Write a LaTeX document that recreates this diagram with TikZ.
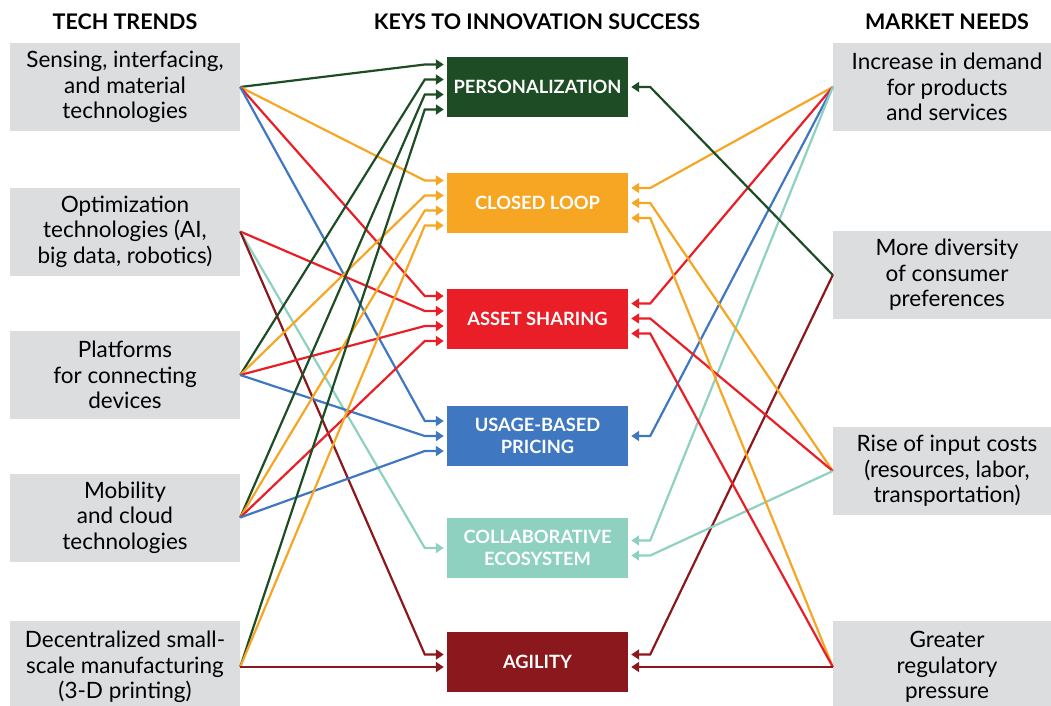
\documentclass[tikz,border=0pt]{standalone}
\usepackage{fontspec}
\setmainfont{Lato}
\usetikzlibrary{arrows.meta,calc}

\definecolor{boxgray}{RGB}{220,221,223}
\definecolor{dkgreen}{RGB}{30,77,37}
\definecolor{keyorange}{RGB}{246,166,35}
\definecolor{keyred}{RGB}{233,30,38}
\definecolor{keyblue}{RGB}{63,120,192}
\definecolor{keyteal}{RGB}{142,209,192}
\definecolor{dkred}{RGB}{139,24,28}

\tikzset{
    trend/.style={fill=boxgray, minimum width=230, minimum height=88, inner sep=0pt,
        align=center, font=\fontsize{22.5}{25.5}\selectfont},
    need/.style={trend, minimum width=228},
    key/.style={minimum width=181, minimum height=60, inner sep=0pt, align=center,
        text=white, font=\fontsize{18.3}{22.5}\selectfont\bfseries},
    head/.style={font=\fontsize{21.5}{22}\selectfont\bfseries},
    link/.style={line width=2.2pt, -{Triangle[length=8pt,width=10pt]}}
}

\begin{document}
\begin{tikzpicture}[x=1pt, y=-1pt]
        \useasboundingbox (0, 0) rectangle (1051, 705);
        %\draw[color=lightgray, step=50] (0, 0) grid (1051, 705);
        \node[head] (hleft) at (125, 22) {TECH TRENDS};
        \node[head] (hmid) at (537, 22) {KEYS TO INNOVATION SUCCESS};
        \node[head] (hright) at (947, 22) {MARKET NEEDS};

        \node[trend] (sens) at (125, 87) {Sensing, interfacing,\\and material\\technologies};
        \node[trend] (optim) at (125, 231.5) {Optimization\\technologies (AI,\\big data, robotics)};
        \node[trend] (platf) at (125, 375) {Platforms\\for connecting\\devices};
        \node[trend] (mobil) at (125, 517.5) {Mobility\\and cloud\\technologies};
        \node[trend, minimum height=92] (decen) at (125, 667) {Decentralized small-\\scale manufacturing\\(3-D printing)};

        \node[key, fill=dkgreen] (pers) at (537.5, 87) {PERSONALIZATION};
        \node[key, fill=keyorange] (loop) at (537.5, 203) {CLOSED LOOP};
        \node[key, fill=keyred] (asset) at (537.5, 318.5) {ASSET SHARING};
        \node[key, fill=keyblue] (usage) at (537.5, 436) {USAGE-BASED\\PRICING};
        \node[key, fill=keyteal] (collab) at (537.5, 548) {COLLABORATIVE\\ECOSYSTEM};
        \node[key, fill=dkred] (agil) at (537.5, 662) {AGILITY};

        \node[need] (demand) at (947, 87) {Increase in demand\\for products\\and services};
        \node[need] (divers) at (947, 275) {More diversity\\of consumer\\preferences};
        \node[need] (costs) at (947, 471) {Rise of input costs\\(resources, labor,\\transportation)};
        \node[need, minimum height=92] (regul) at (947, 667) {Greater\\regulatory\\pressure};

        % tech trends -> keys
        \draw[link, dkgreen] (sens.east) -- ($(pers.west)+(-22,-22.5)$) -- ($(pers.west)+(-3,-22.5)$);
        \draw[link, keyorange] (sens.east) -- ($(loop.west)+(-22,-22.5)$) -- ($(loop.west)+(-3,-22.5)$);
        \draw[link, keyred] (sens.east) -- ($(asset.west)+(-22,-22.5)$) -- ($(asset.west)+(-3,-22.5)$);
        \draw[link, keyblue] (sens.east) -- ($(usage.west)+(-22,-15)$) -- ($(usage.west)+(-3,-15)$);
        \draw[link, keyred] (optim.east) -- ($(asset.west)+(-22,-7.5)$) -- ($(asset.west)+(-3,-7.5)$);
        \draw[link, keyteal] (optim.east) -- ($(collab.west)+(-22,0)$) -- ($(collab.west)+(-3,0)$);
        \draw[link, dkred] (optim.east) -- ($(agil.west)+(-22,-7.5)$) -- ($(agil.west)+(-3,-7.5)$);
        \draw[link, dkgreen] (platf.east) -- ($(pers.west)+(-22,-7.5)$) -- ($(pers.west)+(-3,-7.5)$);
        \draw[link, keyorange] (platf.east) -- ($(loop.west)+(-22,-7.5)$) -- ($(loop.west)+(-3,-7.5)$);
        \draw[link, keyred] (platf.east) -- ($(asset.west)+(-22,7.5)$) -- ($(asset.west)+(-3,7.5)$);
        \draw[link, keyblue] (platf.east) -- ($(usage.west)+(-22,0)$) -- ($(usage.west)+(-3,0)$);
        \draw[link, dkgreen] (mobil.east) -- ($(pers.west)+(-22,7.5)$) -- ($(pers.west)+(-3,7.5)$);
        \draw[link, keyorange] (mobil.east) -- ($(loop.west)+(-22,7.5)$) -- ($(loop.west)+(-3,7.5)$);
        \draw[link, keyred] (mobil.east) -- ($(asset.west)+(-22,22.5)$) -- ($(asset.west)+(-3,22.5)$);
        \draw[link, keyblue] (mobil.east) -- ($(usage.west)+(-22,15)$) -- ($(usage.west)+(-3,15)$);
        \draw[link, dkgreen] (decen.east) -- ($(pers.west)+(-22,22.5)$) -- ($(pers.west)+(-3,22.5)$);
        \draw[link, keyorange] (decen.east) -- ($(loop.west)+(-22,22.5)$) -- ($(loop.west)+(-3,22.5)$);
        \draw[link, dkred] (decen.east) -- ($(agil.west)+(-3,5)$);

        % market needs -> keys
        \draw[link, keyorange] (demand.west) -- ($(loop.east)+(22,-15)$) -- ($(loop.east)+(3,-15)$);
        \draw[link, keyred] (demand.west) -- ($(asset.east)+(22,-15)$) -- ($(asset.east)+(3,-15)$);
        \draw[link, keyblue] (demand.west) -- ($(usage.east)+(22,0)$) -- ($(usage.east)+(3,0)$);
        \draw[link, keyteal] (demand.west) -- ($(collab.east)+(22,-7.5)$) -- ($(collab.east)+(3,-7.5)$);
        \draw[link, dkgreen] (divers.west) -- ($(pers.east)+(22,0)$) -- ($(pers.east)+(3,0)$);
        \draw[link, dkred] (divers.west) -- ($(agil.east)+(22,-7.5)$) -- ($(agil.east)+(3,-7.5)$);
        \draw[link, keyorange] (costs.west) -- ($(loop.east)+(22,0)$) -- ($(loop.east)+(3,0)$);
        \draw[link, keyred] (costs.west) -- ($(asset.east)+(22,0)$) -- ($(asset.east)+(3,0)$);
        \draw[link, keyteal] (costs.west) -- ($(collab.east)+(22,7.5)$) -- ($(collab.east)+(3,7.5)$);
        \draw[link, keyorange] (regul.west) -- ($(loop.east)+(22,15)$) -- ($(loop.east)+(3,15)$);
        \draw[link, keyred] (regul.west) -- ($(asset.east)+(22,15)$) -- ($(asset.east)+(3,15)$);
        \draw[link, dkred] (regul.west) -- ($(agil.east)+(3,5)$);
\end{tikzpicture}
\end{document}
